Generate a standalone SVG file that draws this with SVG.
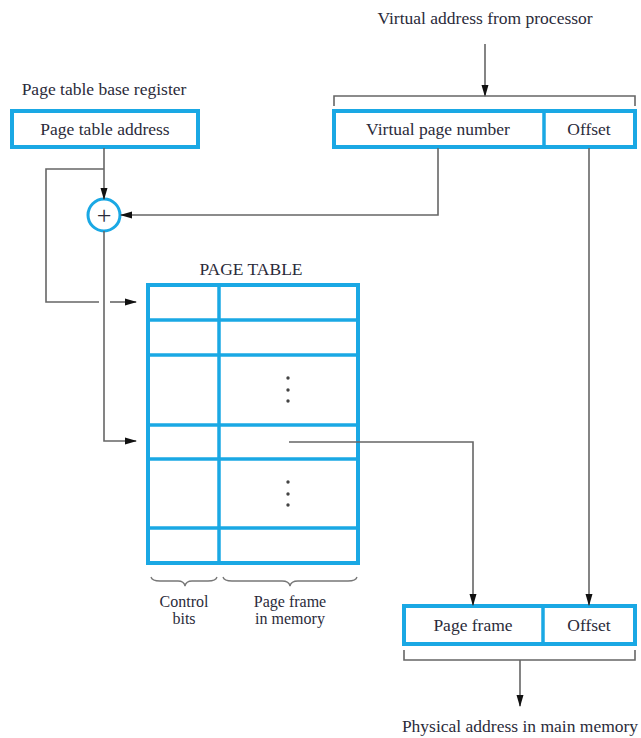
<svg xmlns="http://www.w3.org/2000/svg" width="641" height="738" viewBox="0 0 641 738">
<style>
.t{font-family:"Liberation Serif","Times New Roman",serif;font-size:17.5px;fill:#2b2b3a;text-anchor:middle}
.s{font-size:16px}
.b{fill:#fff;stroke:#1aa8e4;stroke-width:4}
.bl{stroke:#1aa8e4;stroke-width:3.5;fill:none}
.c{fill:none;stroke:#666;stroke-width:1.6}
.a{marker-end:url(#ah)}
.br{fill:none;stroke:#777;stroke-width:1.3}
</style>
<defs>
<marker id="ah" markerUnits="userSpaceOnUse" markerWidth="12" markerHeight="8" refX="11" refY="4" orient="auto">
<path d="M0,0.5 L12,4 L0,7.5 z" fill="#111"/>
</marker>
</defs>
<rect width="641" height="738" fill="#fff"/>

<g id="labels">
<text class="t" x="485" y="24">Virtual address from processor</text>
<text class="t" x="104" y="95">Page table base register</text>
<text class="t" x="520" y="732">Physical address in main memory</text>
</g>

<g id="page-table-base-register">
<rect class="b" x="12" y="111" width="186" height="36"/>
<text class="t" x="105" y="135">Page table address</text>
</g>

<g id="virtual-address">
<rect class="b" x="334" y="111" width="301" height="36"/>
<line class="bl" x1="544" y1="111" x2="544" y2="147"/>
<text class="t" x="438" y="135">Virtual page number</text>
<text class="t" x="589" y="135">Offset</text>
</g>

<g id="adder">
<circle cx="104" cy="215" r="16" fill="#fff" stroke="#1aa8e4" stroke-width="3"/>
<text class="t" x="104" y="224" style="font-size:26px">+</text>
</g>

<g id="page-table">
<text class="t" x="251" y="275">PAGE TABLE</text>
<rect class="b" x="148" y="285" width="210" height="278"/>
<line class="bl" x1="219" y1="285" x2="219" y2="563"/>
<line class="bl" x1="148" y1="320" x2="358" y2="320"/>
<line class="bl" x1="148" y1="355" x2="358" y2="355"/>
<line class="bl" x1="148" y1="425" x2="358" y2="425"/>
<line class="bl" x1="148" y1="459" x2="358" y2="459"/>
<line class="bl" x1="148" y1="528" x2="358" y2="528"/>
<g fill="#444">
<circle cx="288" cy="378" r="1.7"/><circle cx="288" cy="390" r="1.7"/><circle cx="288" cy="401" r="1.7"/>
<circle cx="288" cy="482" r="1.7"/><circle cx="288" cy="494" r="1.7"/><circle cx="288" cy="505" r="1.7"/>
</g>
<path class="br" d="M151,577 Q152,581 160,581 H178 Q184,581 185,586 Q186,581 192,581 H208 Q216,581 217,577"/>
<path class="br" d="M223,577 Q224,581 232,581 H282 Q289,581 290,586 Q291,581 298,581 H348 Q356,581 357,577"/>
<text class="t s" x="184" y="607">Control</text>
<text class="t s" x="184" y="624">bits</text>
<text class="t s" x="290" y="607">Page frame</text>
<text class="t s" x="290" y="624">in memory</text>
</g>

<g id="physical-address">
<rect class="b" x="404" y="606" width="231" height="38"/>
<line class="bl" x1="543" y1="606" x2="543" y2="644"/>
<text class="t" x="473" y="631">Page frame</text>
<text class="t" x="589" y="631">Offset</text>
</g>

<g id="connectors">
<path class="c a" d="M485,44 V96"/>
<path class="c" d="M334,106 V96 H635 V106"/>
<path class="c a" d="M104,148 V199"/>
<path class="c" d="M104,169 H46 V302 H99"/>
<path class="c a" d="M110,302 H136"/>
<path class="c a" d="M438,148 V215 H121"/>
<path class="c a" d="M104,231 V441 H136"/>
<path class="c a" d="M289,442 H473 V605"/>
<path class="c a" d="M589,148 V605"/>
<path class="c" d="M404,650 V660 H635 V650"/>
<path class="c a" d="M520,660 V706"/>
</g>
</svg>
